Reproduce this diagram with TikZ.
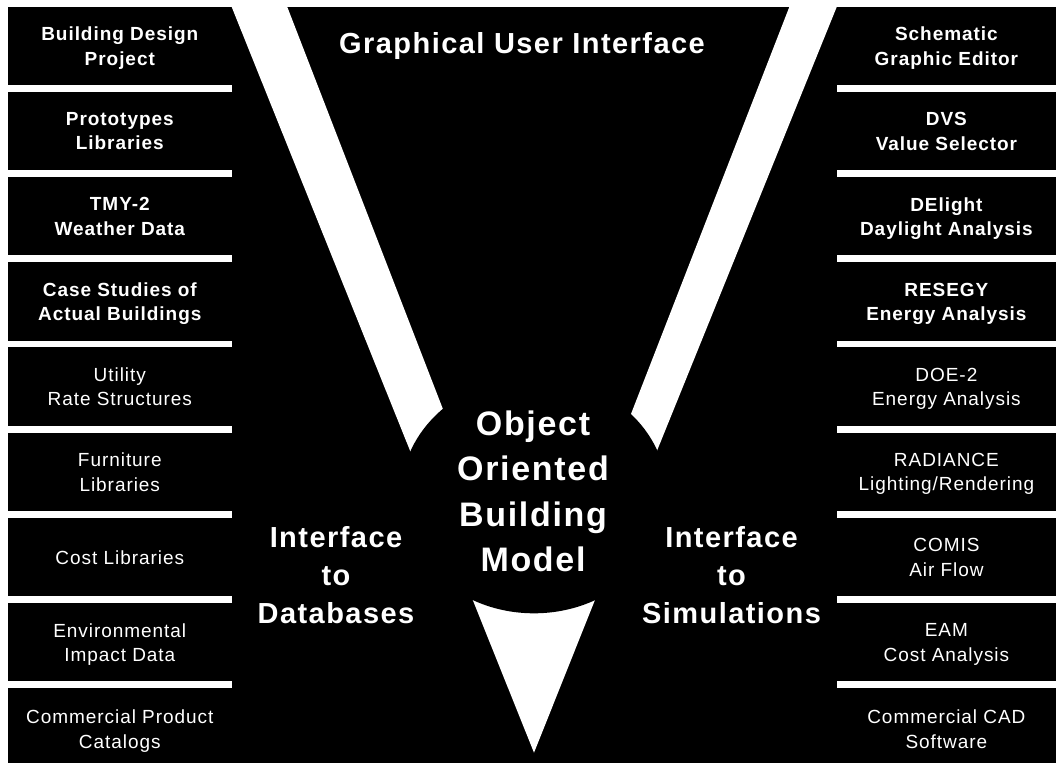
\documentclass[tikz,border=0pt]{standalone}
\usepackage{fontspec}
\setmainfont{Liberation Sans}[LetterSpace=5]

\tikzset{
  boxlabel/.style={text=white, inner sep=0pt, align=center,
    font=\fontsize{19}{24.4}\selectfont,
    execute at begin node=\vphantom{l},
    execute at end node=\vphantom{g}},
  boldlabel/.style={boxlabel, font=\fontsize{19}{24.4}\selectfont\bfseries},
  biglabel/.style={boxlabel, font=\fontsize{29}{37.8}\selectfont\bfseries},
  modellabel/.style={boxlabel, font=\fontsize{34}{45.5}\selectfont\bfseries},
}

\begin{document}
\begin{tikzpicture}[x=1pt,y=-1pt]
\useasboundingbox (0,0) rectangle (1056,763);
\fill[white] (0,0) rectangle (1056,763);
\fill[black] (8,7) rectangle (1056,763);

% white wedges, cut by the model disc:
\fill[white] (231.7,7) -- (287.3,7) -- (466.5,470) -- (417.8,470) -- cycle;
\fill[white] (789.3,7) -- (836.7,7) -- (649.2,470) -- (609.2,470) -- cycle;
\fill[white] (456.7,560) -- (610.9,560) -- (534,752.7) -- cycle;
\fill[black] (534,495) ellipse [x radius=133pt, y radius=118.3pt];

% gaps between the boxes:
\foreach \k in {0,...,7} {
  \fill[white] (8,{85+85.2*\k}) rectangle (231.7,{91.8+85.2*\k});
  \fill[white] (836.7,{85+85.2*\k}) rectangle (1056,{91.8+85.2*\k});
}

% databases:
\node[boldlabel] (db1) at (119.8,48) {Building Design\\Project};
\node[boldlabel] (db2) at (119.8,133.2) {Prototypes\\Libraries};
\node[boldlabel] (db3) at (119.8,218.4) {TMY-2\\Weather Data};
\node[boldlabel] (db4) at (119.8,303.6) {Case Studies of\\Actual Buildings};
\node[boxlabel] (db5) at (119.8,388.8) {Utility\\Rate Structures};
\node[boxlabel] (db6) at (119.8,474) {Furniture\\Libraries};
\node[boxlabel] (db7) at (119.8,559.2) {Cost Libraries};
\node[boxlabel] (db8) at (119.8,644.4) {Environmental\\Impact Data};
\node[boxlabel] (db9) at (119.8,731) {Commercial Product\\Catalogs};

% simulations:
\node[boldlabel] (sim1) at (946.4,48) {Schematic\\Graphic Editor};
\node[boldlabel] (sim2) at (946.4,133.2) {DVS\\Value Selector};
\node[boldlabel] (sim3) at (946.4,218.4) {DElight\\Daylight Analysis};
\node[boldlabel] (sim4) at (946.4,303.6) {RESEGY\\Energy Analysis};
\node[boxlabel] (sim5) at (946.4,388.8) {DOE-2\\Energy Analysis};
\node[boxlabel] (sim6) at (946.4,474) {RADIANCE\\Lighting/Rendering};
\node[boxlabel] (sim7) at (946.4,559.2) {COMIS\\Air Flow};
\node[boxlabel] (sim8) at (946.4,644.4) {EAM\\Cost Analysis};
\node[boxlabel] (sim9) at (946.4,731) {Commercial CAD\\Software};

% centre:
\node[biglabel] (gui) at (522,46.1) {Graphical User Interface};
\node[modellabel] (model) at (533,494.7) {Object\\Oriented\\Building\\Model};
\node[biglabel] (dbif) at (336,577.8) {Interface\\to\\Databases};
\node[biglabel] (simif) at (731.5,577.8) {Interface\\to\\Simulations};

\end{tikzpicture}
\end{document}
